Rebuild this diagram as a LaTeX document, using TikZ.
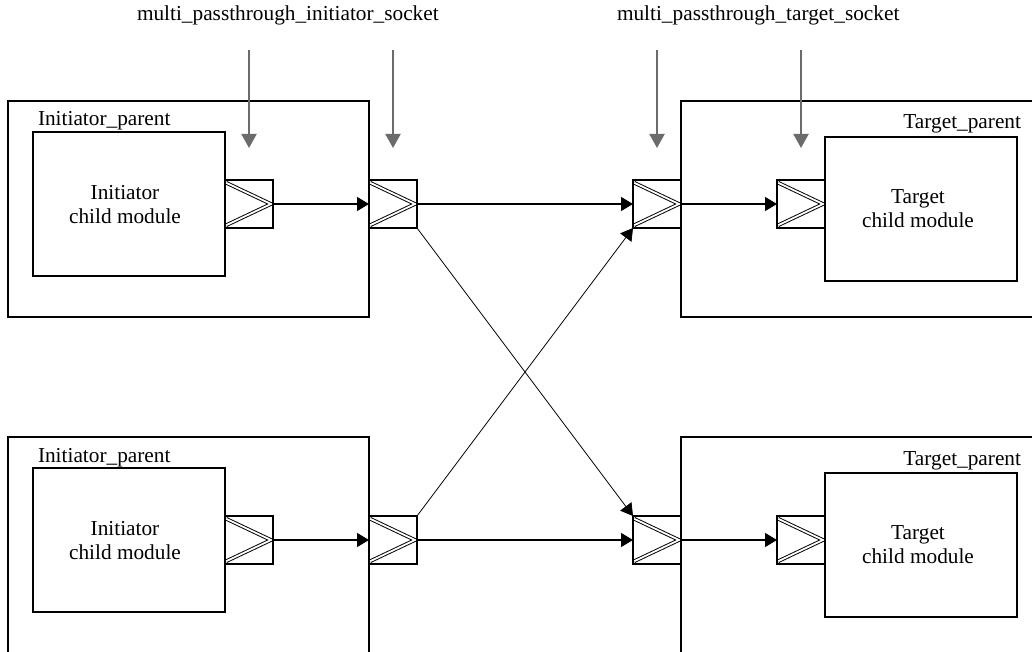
\documentclass[tikz,border=0pt]{standalone}
\usepackage{fontspec}
\setmainfont{Liberation Serif}
\usetikzlibrary{arrows.meta}
\definecolor{arrowgray}{HTML}{6B6B6B}
\tikzset{
  parentbox/.style={draw, line width=1.6pt, minimum width=#1, minimum height=216pt, anchor=north west, inner sep=0pt, outer sep=0pt},
  childbox/.style={draw, line width=1.6pt, minimum width=192pt, minimum height=144pt, anchor=north west, inner sep=0pt, outer sep=0pt},
  socketbox/.style={draw, line width=1.3pt, minimum width=48pt, minimum height=48pt, inner sep=0pt, outer sep=0pt,
    path picture={
      \draw[line width=0.95pt, double=white, double distance=1.8pt, line join=miter]
        ([xshift=1.2pt,yshift=-2.8pt]path picture bounding box.north west)
        -- ([xshift=-2pt]path picture bounding box.east)
        -- ([xshift=1.2pt,yshift=2.8pt]path picture bounding box.south west);
    }},
  conn/.style={line width=1.3pt, -{Triangle[length=12pt,width=14pt]}},
  cross/.style={line width=0.8pt, -{Triangle[length=12pt,width=14pt]}},
  pointer/.style={arrowgray, line width=2pt, -{Triangle[length=14pt,width=15pt]}},
  lbl/.style={inner sep=0pt, outer sep=0pt, font=\fontsize{21.3}{24}\selectfont},
  mlbl/.style={inner sep=0pt, outer sep=0pt, align=center, font=\fontsize{21.3}{24}\selectfont},
}
\begin{document}
\begin{tikzpicture}[x=1pt, y=-1pt]
\clip (0,0) rectangle (1032,652);
\fill[white] (0,0) rectangle (1032,652);

% titles
\node[lbl, anchor=base west] (t1) at (137,21) {multi\_passthrough\_initiator\_socket};
\node[lbl, anchor=base west] (t2) at (617,21) {multi\_passthrough\_target\_socket};

% ---------- top row ----------
\node[parentbox=361pt] (ip1) at (8,101) {};
\node[childbox] (ic1) at (33,132) {};
\node[lbl, anchor=base west] (ipl1) at (38,126) {Initiator\_parent};
\node[mlbl] (ict1) at (125,205) {Initiator\\child module};
\node[socketbox] (is1) at (249,204) {};
\node[socketbox] (ps1) at (393,204) {};

\node[parentbox=380pt] (tp1) at (681,101) {};
\node[childbox] (tc1) at (825,137) {};
\node[lbl, anchor=base east] (tpl1) at (1021,129) {Target\_parent};
\node[mlbl] (tct1) at (918,209) {Target\\child module};
\node[socketbox] (ts1) at (657,204) {};
\node[socketbox] (tcs1) at (801,204) {};

% ---------- bottom row ----------
\node[parentbox=361pt] (ip2) at (8,437) {};
\node[childbox] (ic2) at (33,468) {};
\node[lbl, anchor=base west] (ipl2) at (38,462) {Initiator\_parent};
\node[mlbl] (ict2) at (125,541) {Initiator\\child module};
\node[socketbox] (is2) at (249,540) {};
\node[socketbox] (ps2) at (393,540) {};

\node[parentbox=380pt] (tp2) at (681,437) {};
\node[childbox] (tc2) at (825,473) {};
\node[lbl, anchor=base east] (tpl2) at (1021,465) {Target\_parent};
\node[mlbl] (tct2) at (918,545) {Target\\child module};
\node[socketbox] (ts2) at (657,540) {};
\node[socketbox] (tcs2) at (801,540) {};

% connectors
\draw[conn] (is1.east) -- (ps1.west);
\draw[conn] (ps1.east) -- (ts1.west);
\draw[conn] (ts1.east) -- (tcs1.west);
\draw[conn] (is2.east) -- (ps2.west);
\draw[conn] (ps2.east) -- (ts2.west);
\draw[conn] (ts2.east) -- (tcs2.west);
\draw[cross] (ps1.south east) -- (ts2.north west);
\draw[cross] (ps2.north east) -- (ts1.south west);

% gray pointers
\coordinate (g1s) at (249,50); \coordinate (g1e) at (249,148);
\coordinate (g2s) at (393,50); \coordinate (g2e) at (393,148);
\coordinate (g3s) at (657,50); \coordinate (g3e) at (657,148);
\coordinate (g4s) at (801,50); \coordinate (g4e) at (801,148);
\draw[pointer] (g1s) -- (g1e);
\draw[pointer] (g2s) -- (g2e);
\draw[pointer] (g3s) -- (g3e);
\draw[pointer] (g4s) -- (g4e);
\end{tikzpicture}
\end{document}
